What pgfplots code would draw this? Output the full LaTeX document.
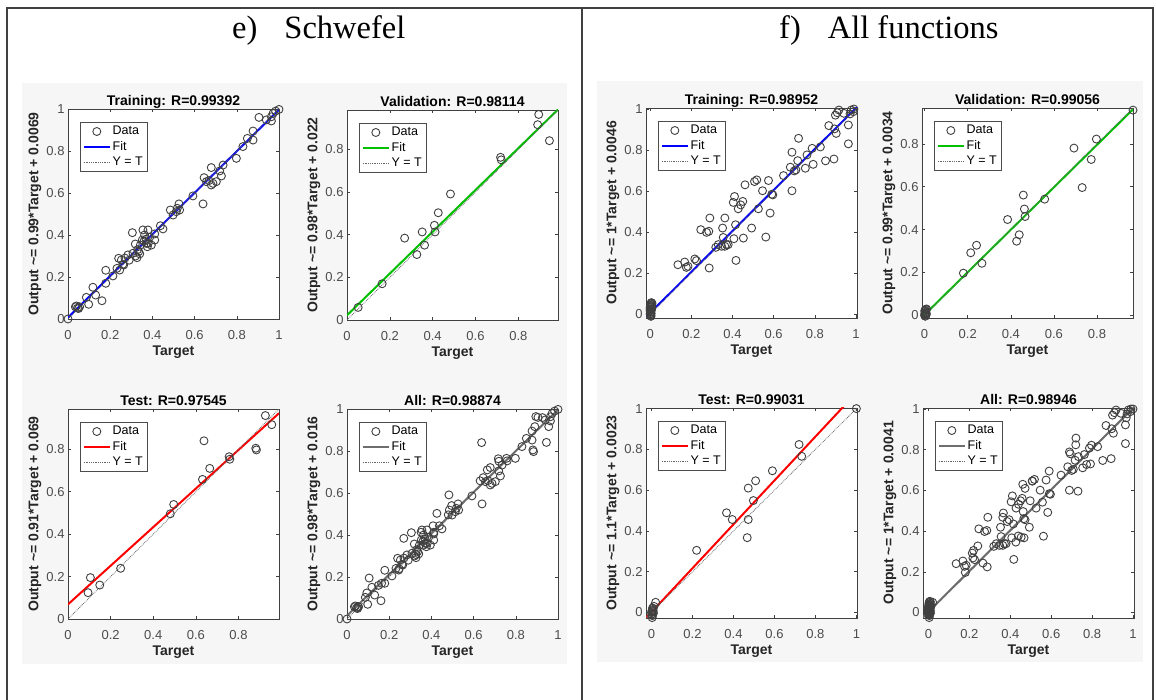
\documentclass[border=0pt]{standalone}
\usepackage{pgfplots}
\pgfplotsset{compat=1.18}
\usepackage{pgfplotstable}
\usepackage{fontspec}
\setmainfont{Liberation Sans}
\newfontfamily\timesfont{Liberation Serif}

\definecolor{panelbg}{HTML}{F6F6F6}
\definecolor{axgray}{HTML}{404040}
\definecolor{fitblue}{HTML}{0000FF}
\definecolor{fitgreen}{HTML}{00C000}
\definecolor{fitred}{HTML}{FF0000}
\definecolor{fitgray}{HTML}{6E6E6E}

\newcommand{\tickfont}{\fontsize{13bp}{14bp}\selectfont}
\newcommand{\labfont}{\fontsize{14bp}{15bp}\selectfont\bfseries}
\newcommand{\legfont}{\fontsize{12.5bp}{13bp}\selectfont}

\pgfplotsset{
  regr/.style={
    scale only axis, width=211bp, height=210bp,
    anchor=north west,
    axis line style={draw=axgray, line width=0.7bp},
    axis background/.style={fill=white},
    tick align=inside, tick pos=both,
    major tick length=3bp,
    tick style={axgray, line width=0.6bp},
    tick label style={font=\tickfont, text=black!70},
    xticklabel style={yshift=-8bp},
    title style={font=\labfont, at={(0.5,1)}, anchor=base, yshift=-2bp, inner sep=0pt},
    xlabel style={font=\labfont, text=black!85, at={(axis description cs:0.5,-0.16)}, anchor=center},
    ylabel style={font=\labfont, text=black!85, at={(axis description cs:-0.157,0.5)}, anchor=center},
    xlabel={Target},
    legend style={at={(axis description cs:0.057,0.938)}, anchor=north west,
      draw=black!70, line width=0.6bp, fill=white, font=\legfont,
      inner xsep=2.5bp, inner ysep=1.5bp, row sep=0pt,
      nodes={inner sep=1.8bp, text height=9bp, text depth=2.8bp}},
    legend cell align=left,
  },
  datapts/.style={only marks, mark=o, mark size=4bp, draw=black!75,
    mark options={line width=0.9bp},
    legend image code/.code={\draw[##1] plot coordinates {(13bp,0bp)};}},
  fitln/.style={line width=2bp, color=#1,
    legend image code/.code={\draw[##1] (0bp,0bp) -- (26bp,0bp);}},
  ytln/.style={densely dotted, line width=0.8bp, black!60,
    legend image code/.code={\draw[##1] (0bp,0bp) -- (26bp,0bp);}},
  ticks01/.style={xtick={0,0.2,0.4,0.6,0.8,1}, xticklabels={0,0.2,0.4,0.6,0.8,1},
    ytick={0,0.2,0.4,0.6,0.8,1}, yticklabels={0,0.2,0.4,0.6,0.8,1}},
  ticks08/.style={xtick={0,0.2,0.4,0.6,0.8}, xticklabels={0,0.2,0.4,0.6,0.8},
    ytick={0,0.2,0.4,0.6,0.8}, yticklabels={0,0.2,0.4,0.6,0.8}},
}

% ---- e) Schwefel
\pgfplotstableread{
x y
0 0
0.035 0.058
0.045 0.052
0.055 0.058
0.04 0.062
0.05 0.05
0.087 0.103
0.098 0.07
0.118 0.151
0.131 0.114
0.161 0.087
0.179 0.232
0.179 0.17
0.213 0.205
0.24 0.289
0.232 0.241
0.253 0.281
0.245 0.233
0.264 0.257
0.27 0.29
0.284 0.305
0.305 0.411
0.308 0.313
0.319 0.357
0.327 0.292
0.335 0.321
0.343 0.352
0.355 0.424
0.352 0.376
0.363 0.40
0.371 0.36
0.379 0.424
0.376 0.344
0.387 0.389
0.395 0.352
0.411 0.376
0.411 0.405
0.438 0.444
0.45 0.429
0.485 0.519
0.498 0.495
0.513 0.511
0.526 0.548
0.529 0.519
0.518 0.527
0.592 0.586
0.64 0.548
0.645 0.673
0.656 0.654
0.668 0.659
0.679 0.721
0.687 0.646
0.679 0.638
0.703 0.654
0.719 0.705
0.727 0.681
0.735 0.733
0.798 0.765
0.829 0.821
0.85 0.86
0.877 0.895
0.877 0.852
0.905 0.96
0.94 0.948
0.964 0.943
0.972 0.979
0.984 0.99
1.0 0.998
0.964 0.963
0.26 0.26
0.29 0.28
0.33 0.33
0.36 0.37
0.34 0.31
0.32 0.30
0.37 0.38
0.38 0.36
}\STrain

\pgfplotstableread{
x y
0.052 0.059
0.164 0.170
0.269 0.384
0.326 0.307
0.351 0.413
0.362 0.351
0.408 0.444
0.411 0.413
0.426 0.503
0.483 0.591
0.717 0.763
0.72 0.751
0.89 0.916
0.895 0.964
0.945 0.841
}\SVal

\pgfplotstableread{
x y
0.094 0.124
0.105 0.195
0.149 0.16
0.247 0.239
0.48 0.496
0.496 0.54
0.631 0.658
0.638 0.84
0.665 0.71
0.756 0.765
0.759 0.753
0.881 0.805
0.884 0.797
0.926 0.959
0.956 0.916
}\STest

% ---- f) All functions
\pgfplotstableread{
x y
0 0
0.002 0.01
0.004 0.02
0.001 0.03
0.005 0.04
0.003 0.05
0.006 0.055
0.002 -0.005
0.004 -0.012
0.0 0.015
0.007 0.025
0.008 0.045
0.001 0.035
0.003 0.008
0.005 0.002
0.006 0.018
0.009 0.052
0.002 0.042
0.004 -0.008
0.0 0.025
0.007 0.035
0.135 0.24
0.168 0.253
0.176 0.227
0.184 0.232
0.217 0.268
0.225 0.26
0.246 0.411
0.274 0.398
0.285 0.403
0.29 0.468
0.287 0.224
0.319 0.325
0.331 0.338
0.347 0.33
0.352 0.419
0.355 0.373
0.363 0.468
0.363 0.33
0.371 0.338
0.379 0.338
0.404 0.544
0.407 0.367
0.41 0.573
0.415 0.435
0.417 0.261
0.428 0.513
0.44 0.532
0.45 0.549
0.453 0.37
0.461 0.63
0.493 0.419
0.507 0.646
0.518 0.654
0.526 0.513
0.546 0.601
0.562 0.375
0.575 0.651
0.583 0.492
0.591 0.584
0.596 0.581
0.648 0.675
0.681 0.716
0.689 0.789
0.689 0.601
0.70 0.698
0.708 0.703
0.717 0.748
0.721 0.857
0.754 0.711
0.762 0.776
0.787 0.808
0.792 0.73
0.827 0.815
0.852 0.747
0.868 0.919
0.893 0.756
0.896 0.903
0.904 0.881
0.909 0.982
0.917 0.995
0.941 0.979
0.963 0.922
0.963 0.83
0.977 0.995
0.99 1.0
0.987 0.987
0.971 0.976
0.90 0.97
}\FTrain

\pgfplotstableread{
x y
0 0
0.002 0.005
0.004 0.012
0.001 0.02
0.005 0.028
0.003 -0.004
0.006 0.016
0.008 0.008
0.002 0.024
0.007 0.002
0.009 0.03
0.001 0.01
0.18 0.197
0.214 0.292
0.241 0.327
0.266 0.243
0.385 0.447
0.427 0.346
0.439 0.376
0.458 0.561
0.463 0.496
0.466 0.461
0.557 0.542
0.693 0.78
0.731 0.596
0.773 0.727
0.797 0.822
0.967 0.957
}\FVal

\pgfplotstableread{
x y
0 0
0.002 0.008
0.004 -0.015
0.006 0.015
0.003 -0.025
0.008 0.004
0.005 0.022
0.001 -0.008
0.007 0.01
0.009 -0.004
0.02 0.05
0.012 0.03
0.22 0.305
0.366 0.489
0.394 0.456
0.467 0.367
0.472 0.456
0.472 0.61
0.497 0.549
0.508 0.646
0.59 0.695
0.72 0.824
0.733 0.766
1.0 1.0
}\FTest

\begin{document}
\begin{tikzpicture}[x=1bp,y=1bp]
\useasboundingbox (0,0) rectangle (1156,700);
\fill[white] (0,0) rectangle (1156,700);
% panel backgrounds
\fill[panelbg] (22,36) rectangle (567,617);
\fill[panelbg] (597,38) rectangle (1143,619);
% frame
\draw[black!75, line width=1.8bp] (7,0) -- (7,692) -- (1153,692) -- (1153,0);
\draw[black!75, line width=1.8bp] (582,0) -- (582,692);
% panel titles
\node[anchor=base west, inner sep=0pt, font=\timesfont\fontsize{32.5bp}{34bp}\selectfont]
  at (232,661) {e)\hspace{27bp}Schwefel};
\node[anchor=base west, inner sep=0pt, font=\timesfont\fontsize{32.5bp}{34bp}\selectfont]
  at (779,661) {f)\hspace{27bp}All functions};

% ================= e) Schwefel =================
\begin{axis}[regr, ticks01, at={(68bp,591bp)},
  xmin=0, xmax=1, ymin=0, ymax=1,
  title={Training: R=0.99392},
  ylabel={Output \textasciitilde= 0.99*Target + 0.0069}]
  \addplot[datapts] table {\STrain};
  \addlegendentry{Data}
  \addplot[fitln=fitblue] coordinates {(0,0.0069) (1,0.9969)};
  \addlegendentry{Fit}
  \addplot[ytln] coordinates {(0,0) (1,1)};
  \addlegendentry{Y = T}
\end{axis}

\begin{axis}[regr, ticks08, at={(347bp,590bp)},
  xmin=0, xmax=0.985, ymin=0, ymax=0.985,
  title={Validation: R=0.98114},
  ylabel={Output \textasciitilde= 0.98*Target + 0.022}]
  \addplot[datapts] table {\SVal};
  \addlegendentry{Data}
  \addplot[fitln=fitgreen] coordinates {(0,0.022) (0.985,0.9873)};
  \addlegendentry{Fit}
  \addplot[ytln] coordinates {(0,0) (0.985,0.985)};
  \addlegendentry{Y = T}
\end{axis}

\begin{axis}[regr, ticks08, at={(68bp,291bp)},
  xmin=0, xmax=0.99, ymin=0, ymax=0.99,
  title={Test: R=0.97545},
  ylabel={Output \textasciitilde= 0.91*Target + 0.069}]
  \addplot[datapts] table {\STest};
  \addlegendentry{Data}
  \addplot[fitln=fitred] coordinates {(0,0.069) (0.99,0.970)};
  \addlegendentry{Fit}
  \addplot[ytln] coordinates {(0,0) (0.99,0.99)};
  \addlegendentry{Y = T}
\end{axis}

\begin{axis}[regr, ticks01, at={(347bp,291bp)},
  xmin=0, xmax=1, ymin=0, ymax=1,
  title={All: R=0.98874},
  ylabel={Output \textasciitilde= 0.98*Target + 0.016}]
  \addplot[datapts] table {\STrain};
  \addlegendentry{Data}
  \addplot[datapts, forget plot] table {\SVal};
  \addplot[datapts, forget plot] table {\STest};
  \addplot[fitln=fitgray] coordinates {(0,0.016) (1,0.996)};
  \addlegendentry{Fit}
  \addplot[ytln] coordinates {(0,0) (1,1)};
  \addlegendentry{Y = T}
\end{axis}

% ================= f) All functions =================
\begin{axis}[regr, ticks01, at={(646bp,592bp)},
  xmin=-0.02, xmax=1.005, ymin=-0.02, ymax=1.005,
  title={Training: R=0.98952},
  ylabel={Output \textasciitilde= 1*Target + 0.0046}]
  \addplot[datapts] table {\FTrain};
  \addlegendentry{Data}
  \addplot[fitln=fitblue] coordinates {(-0.02,-0.0154) (1.005,1.0096)};
  \addlegendentry{Fit}
  \addplot[ytln] coordinates {(-0.02,-0.02) (1.005,1.005)};
  \addlegendentry{Y = T}
\end{axis}

\begin{axis}[regr, ticks08, at={(922bp,592bp)},
  xmin=-0.012, xmax=0.967, ymin=-0.012, ymax=0.967,
  title={Validation: R=0.99056},
  ylabel={Output \textasciitilde= 0.99*Target + 0.0034}]
  \addplot[datapts] table {\FVal};
  \addlegendentry{Data}
  \addplot[fitln=fitgreen] coordinates {(-0.012,-0.0085) (0.967,0.9607)};
  \addlegendentry{Fit}
  \addplot[ytln] coordinates {(-0.012,-0.012) (0.967,0.967)};
  \addlegendentry{Y = T}
\end{axis}

\begin{axis}[regr, ticks01, at={(646bp,292bp)},
  xmin=-0.027, xmax=1.003, ymin=-0.027, ymax=1.003,
  title={Test: R=0.99031},
  ylabel={Output \textasciitilde= 1.1*Target + 0.0023}]
  \addplot[datapts] table {\FTest};
  \addlegendentry{Data}
  \addplot[fitln=fitred] coordinates {(-0.027,-0.027) (1.003,1.081)};
  \addlegendentry{Fit}
  \addplot[ytln] coordinates {(-0.027,-0.027) (1.003,1.003)};
  \addlegendentry{Y = T}
\end{axis}

\begin{axis}[regr, ticks01, at={(923bp,292bp)},
  xmin=-0.027, xmax=1.005, ymin=-0.027, ymax=1.005,
  title={All: R=0.98946},
  ylabel={Output \textasciitilde= 1*Target + 0.0041}]
  \addplot[datapts] table {\FTrain};
  \addlegendentry{Data}
  \addplot[datapts, forget plot] table {\FVal};
  \addplot[datapts, forget plot] table {\FTest};
  \addplot[fitln=fitgray] coordinates {(-0.027,-0.0229) (1.005,1.0091)};
  \addlegendentry{Fit}
  \addplot[ytln] coordinates {(-0.027,-0.027) (1.005,1.005)};
  \addlegendentry{Y = T}
\end{axis}
\end{tikzpicture}
\end{document}
